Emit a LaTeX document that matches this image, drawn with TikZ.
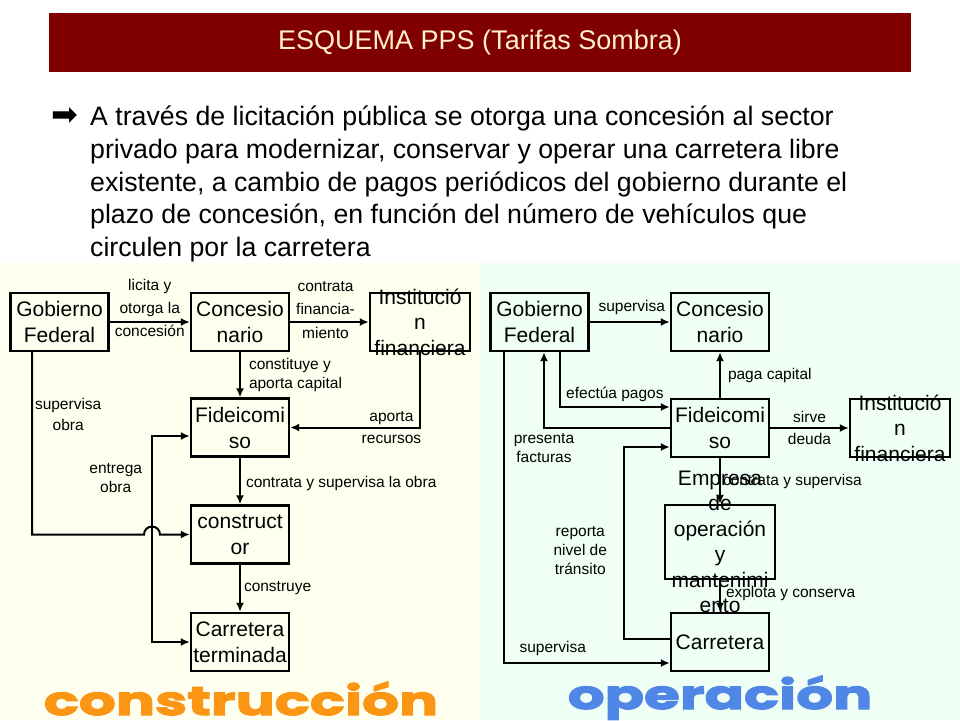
\documentclass[tikz,border=0pt]{standalone}
\usepackage{fontspec}
\setmainfont{Liberation Sans}
\newfontfamily\symfont{DejaVu Sans}
\newfontfamily\decofont{Poppins}[FakeStretch=1.45,FakeBold=3]
\usetikzlibrary{arrows.meta}
\definecolor{barred}{RGB}{128,0,0}
\definecolor{titlecream}{RGB}{255,240,200}
\definecolor{leftbg}{RGB}{255,255,240}
\definecolor{rightbg}{RGB}{240,255,245}
\definecolor{buildorange}{RGB}{250,150,20}
\definecolor{operblue}{RGB}{80,135,230}

\begin{document}
\begin{tikzpicture}
  [
    x=1pt, y=-1pt,
    box node/.style={draw,line width=2.4pt,minimum width=98pt,minimum height=58pt,inner sep=0pt,align=center,font=\fontsize{21}{26}\selectfont},
    over text/.style={align=center,inner sep=0pt,font=\fontsize{21}{25.5}\selectfont},
    note node/.style={align=center,inner sep=0pt,font=\fontsize{15.5}{19}\selectfont},
    arrow line/.style={line width=2pt,-{Latex[length=9pt,width=8pt]}},
    both line/.style={line width=2pt,{Latex[length=9pt,width=8pt]}-{Latex[length=9pt,width=8pt]}},
  ]

  \useasboundingbox (0,0) rectangle (960,720);
  \fill[white] (0,0) rectangle (960,720);
  \fill[leftbg] (0,263) rectangle (480,720);
  \fill[rightbg] (480,263) rectangle (960,720);

  \fill[barred] (49,13) rectangle (911,72);
  \node(t)[text=titlecream,font=\fontsize{27}{32}\selectfont] at (480,42.5) {ESQUEMA PPS (Tarifas Sombra)};
  \node(b)[font=\symfont\fontsize{32}{32}\selectfont] at (65,117) {➡};
  \node(p)[anchor=north west,inner sep=0pt,align=left,font=\fontsize{26.7}{32.7}\selectfont] at (90,106)
    {A través de licitación pública se otorga una concesión al sector\\
     privado para modernizar, conservar y operar una carretera libre\\
     existente, a cambio de pagos periódicos del gobierno durante el\\
     plazo de concesión, en función del número de vehículos que\\
     circulen por la carretera};

  \node(g1)[box node] at (59.5,322) {Gobierno\\Federal};
  \node(c1)[box node] at (240,322) {Concesio\\nario};
  \node(i1)[box node,minimum width=100pt,label={[over text]center:Institució\\n\\financiera}] at (420,322) {};
  \node(f1)[box node] at (240,427.5) {Fideicomi\\so};
  \node(k1)[box node] at (240,534.5) {construct\\or};
  \node(r1)[box node] at (240,642) {Carretera\\terminada};
  \coordinate(j1) at (152,534.5);
  \coordinate(e1) at (152,540);

  \draw[arrow line] (g1) -- node[note node,yshift=14pt]{licita y\\[4pt]otorga la\\[4pt]concesión} (c1);
  \draw[arrow line] (c1) -- node[note node,yshift=12pt,xshift=-4pt]{contrata\\[4.5pt]financia-\\[4.5pt]miento} (i1);
  \draw[arrow line] (c1) -- node[note node,right=8pt,align=left]{constituye y\\aporta capital} (f1);
  \draw[arrow line] (i1) |- node[note node,pos=0.61]{aporta\\[3pt]recursos} (f1);
  \draw[arrow line] ([xshift=-27.5pt]g1.south) |- node[note node,right=2pt,pos=0.17]{supervisa\\[2pt]obra} ([xshift=-8pt]j1)
    arc[start angle=180,end angle=0,radius=8pt] -- (k1);
  \draw[both line] ([yshift=-8.5pt]f1.west) -| node[note node,left=9pt,pos=0.7]{entrega\\obra} (e1) |- (r1);
  \draw[arrow line] (f1) -- node[note node,right=5pt,pos=0.56]{contrata y supervisa la obra} (k1);
  \draw[arrow line] (k1) -- node[note node,right=3pt]{construye} (r1);

  \node(g2)[box node] at (539.5,322) {Gobierno\\Federal};
  \node(c2)[box node] at (720,322) {Concesio\\nario};
  \node(f2)[box node] at (720,428) {Fideicomi\\so};
  \node(i2)[box node,minimum width=100pt,label={[over text]center:Institució\\n\\financiera}] at (900,428) {};
  \node(e2)[box node,minimum width=110pt,minimum height=74pt,label={[over text]center:Empresa\\de\\operación\\y\\mantenimi\\ento}] at (720,542) {};
  \node(r2)[box node] at (720,642) {Carretera};
  \coordinate(t2) at (624,447);

  \draw[arrow line] (g2) -- node[note node,xshift=2pt,yshift=15pt]{supervisa} (c2);
  \draw[arrow line] (f2) -- node[note node,right=7pt]{paga capital} (c2);
  \draw[arrow line] ([xshift=20.5pt]g2.south) |- node[note node,pos=0.75,yshift=13pt]{efectúa pagos} ([yshift=21pt]f2.west);
  \draw[arrow line] (f2.west) -| node[note node,below=4pt,pos=0.5]{presenta\\facturas} ([xshift=4.5pt]g2.south);
  \draw[arrow line] (f2) -- node[note node]{sirve\\[3pt]deuda} (i2);
  \draw[arrow line] (f2) -- node[note node,right=2pt,pos=0.5]{contrata y supervisa} (e2);
  \draw[arrow line] (e2) -- node[note node,right=5pt,pos=0.41]{explota y conserva} (r2);
  \draw[arrow line] ([yshift=3pt]r2.west) -| node[note node,left=16pt,pos=0.73]{reporta\\nivel de\\tránsito} (t2) -- (t2 -| f2.west);
  \draw[arrow line] ([xshift=-35.5pt]g2.south) |- node[note node,pos=0.647,yshift=15pt]{supervisa} ([yshift=-21pt]r2.west);

  \node(w1)[anchor=base,inner sep=0pt,text=buildorange,font=\decofont\bfseries\fontsize{40}{40}\selectfont] at (241,715) {construcción};
  \node(w2)[anchor=base,inner sep=0pt,text=operblue,font=\decofont\bfseries\fontsize{40}{40}\selectfont] at (720,709) {operación};

\end{tikzpicture}
\end{document}
